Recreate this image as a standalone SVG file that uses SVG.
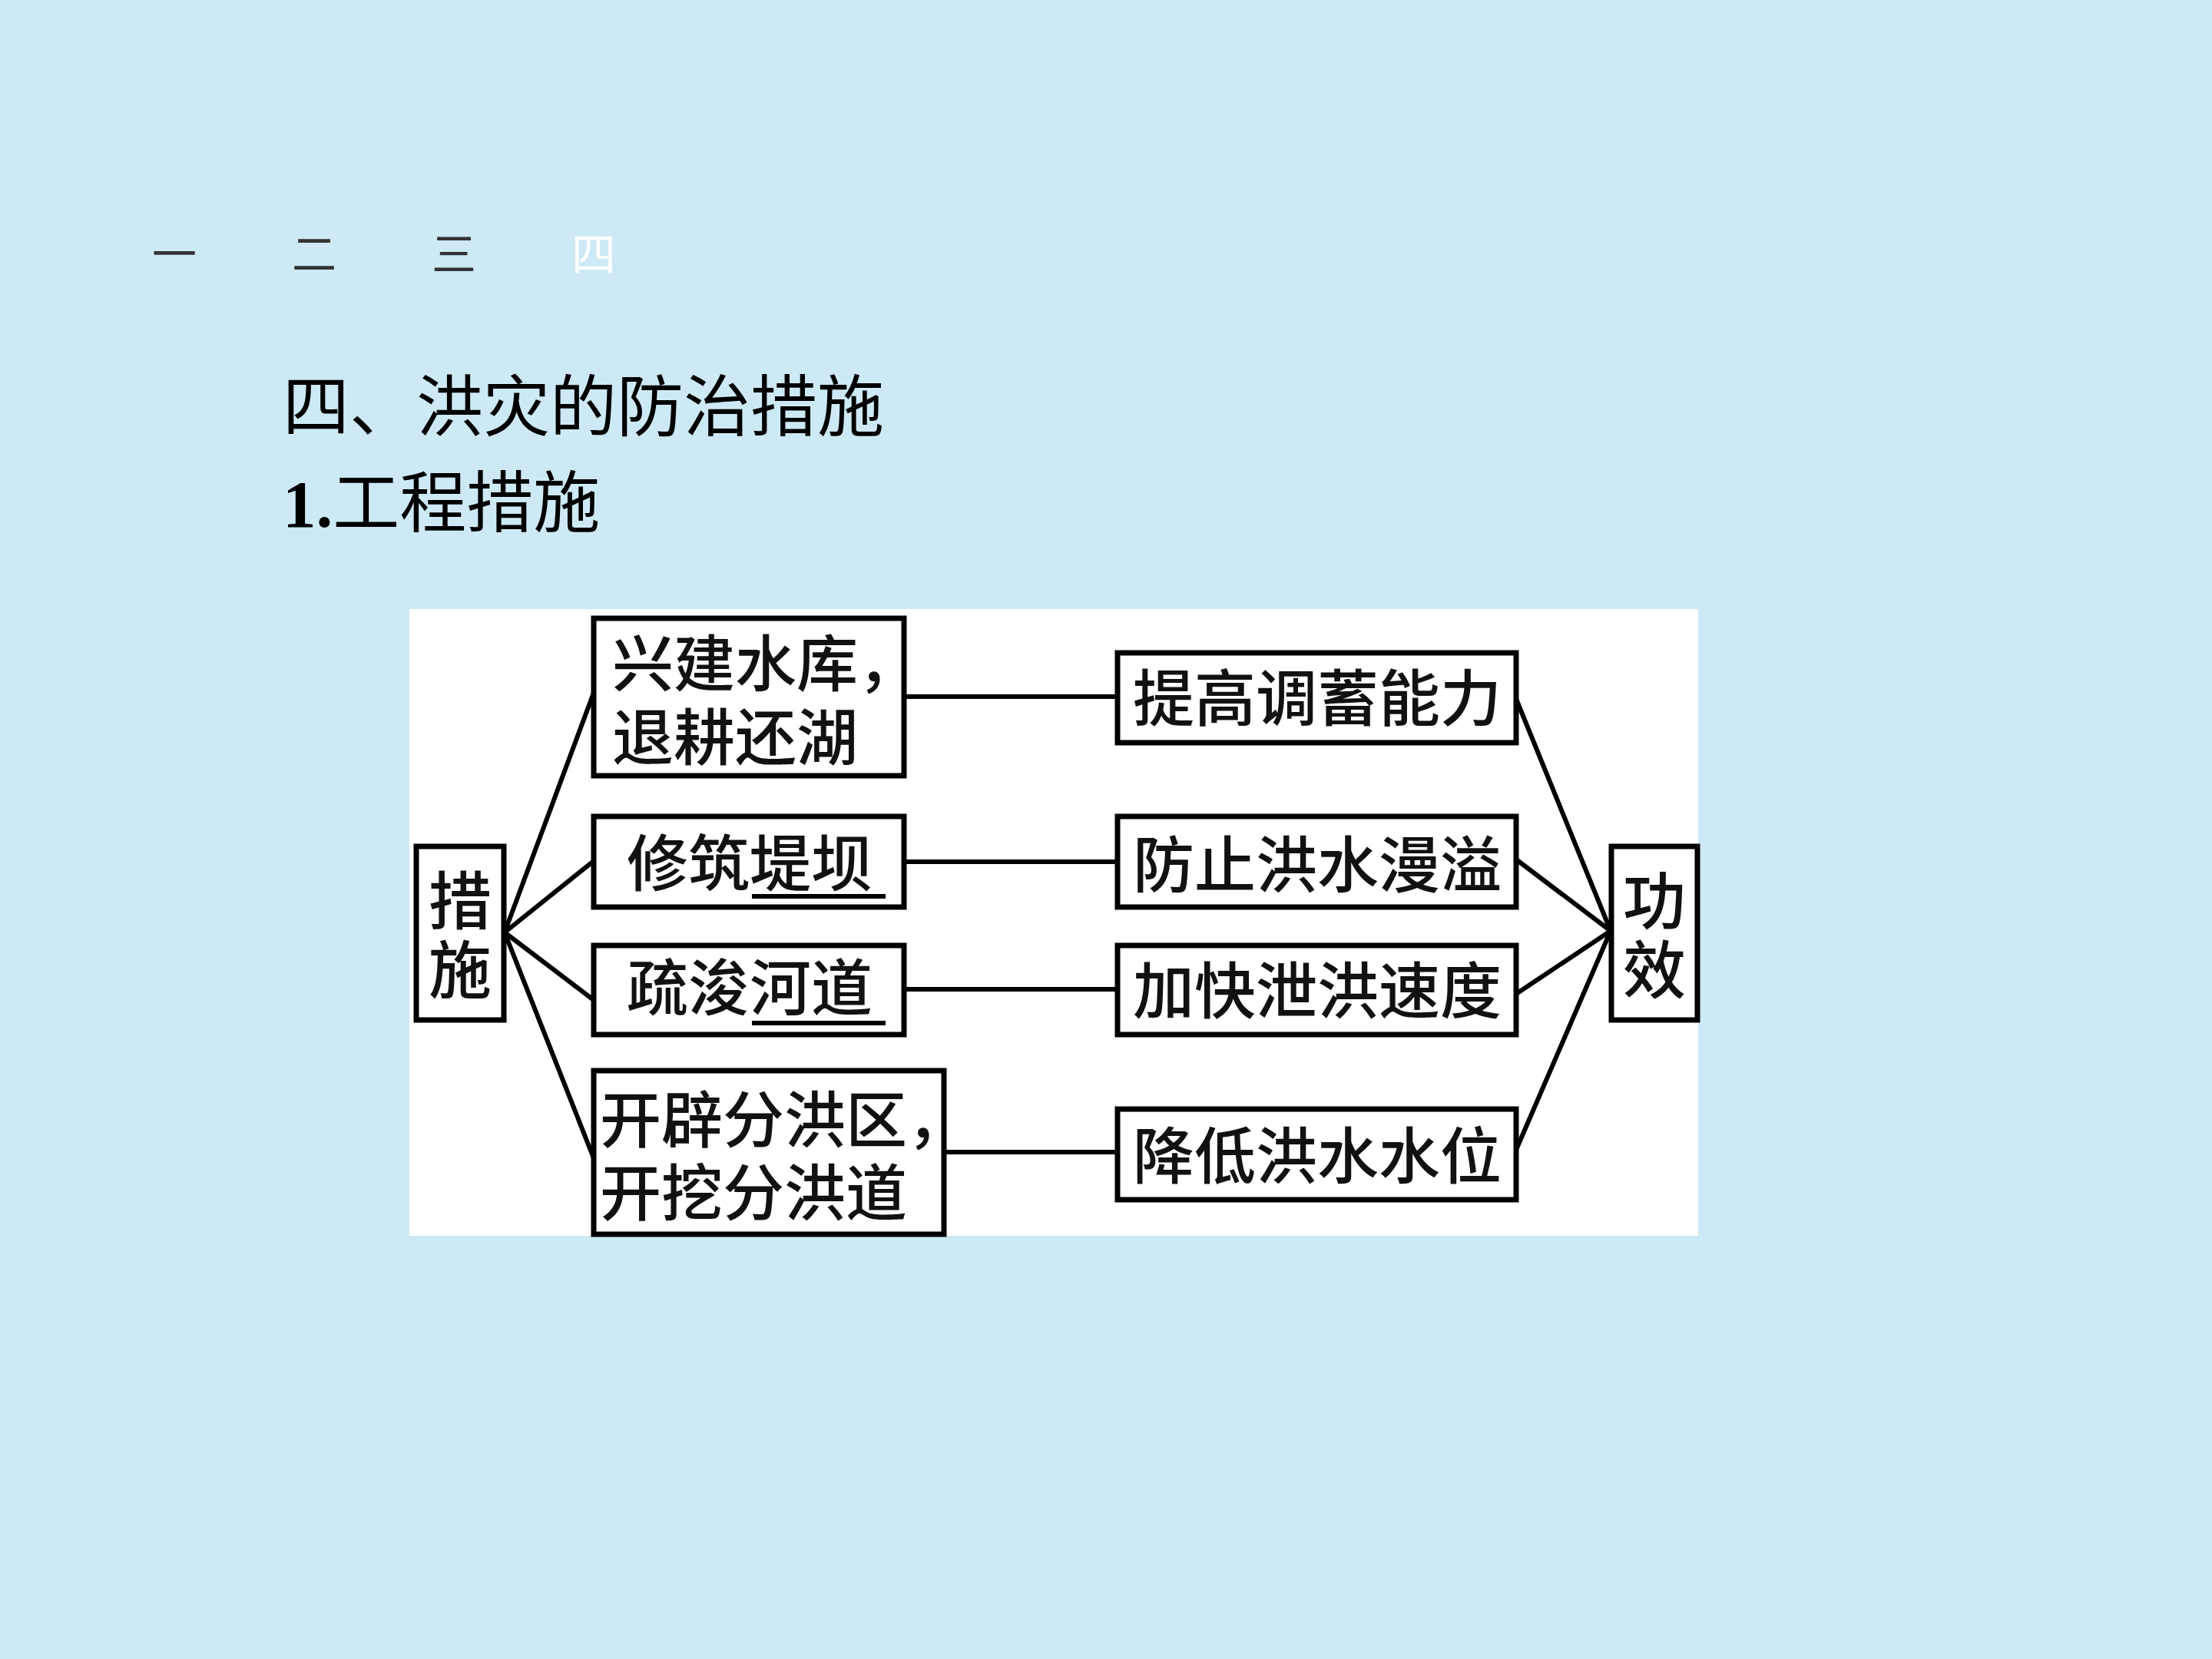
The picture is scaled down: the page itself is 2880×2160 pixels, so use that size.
<svg xmlns="http://www.w3.org/2000/svg" width="2880" height="2160" viewBox="0 0 2880 2160">
<style>
.box{fill:#fff;stroke:#000;stroke-width:7}
.t{font-family:"Noto Sans CJK SC","Noto Sans",sans-serif;font-weight:500;font-size:80px;fill:#111}
.tv{font-family:"Noto Sans CJK SC","Noto Sans",sans-serif;font-weight:500;font-size:82px;fill:#111}
.ln{stroke:#000;stroke-width:6;fill:none}
.ul{stroke:#000;stroke-width:6}
.nav{font-family:"Noto Sans CJK SC",sans-serif;font-size:58px;fill:#333}
.h{font-family:"Noto Sans CJK SC",sans-serif;font-size:87px;fill:#000}
</style>
<rect x="0" y="0" width="2880" height="2160" fill="#cde9f5"/>
<g id="nav">
<text class="nav" x="198" y="352">一</text>
<text class="nav" x="380" y="352">二</text>
<text class="nav" x="562" y="352">三</text>
<text class="nav" x="744" y="352" style="fill:#fff">四</text>
</g>
<g id="title">
<text class="h" x="368" y="561">四、洪灾的防治措施</text>
<text class="h" x="368" y="686"><tspan font-family="Liberation Serif,serif" font-weight="700">1.</tspan>工程措施</text>
</g>
<rect x="533" y="793" width="1678" height="816" fill="#fff"/>
<g id="connectors">
<line class="ln" x1="1177" y1="907" x2="1455" y2="907"/>
<line class="ln" x1="1177" y1="1122" x2="1455" y2="1122"/>
<line class="ln" x1="1177" y1="1288" x2="1455" y2="1288"/>
<line class="ln" x1="1229" y1="1500" x2="1455" y2="1500"/>
<line class="ln" x1="657" y1="1214" x2="773" y2="902"/>
<line class="ln" x1="657" y1="1214" x2="773" y2="1121"/>
<line class="ln" x1="657" y1="1214" x2="773" y2="1302"/>
<line class="ln" x1="657" y1="1214" x2="773" y2="1508"/>
<line class="ln" x1="1974" y1="910" x2="2097" y2="1212"/>
<line class="ln" x1="1974" y1="1119" x2="2097" y2="1212"/>
<line class="ln" x1="1974" y1="1294" x2="2097" y2="1212"/>
<line class="ln" x1="1974" y1="1497" x2="2097" y2="1212"/>
</g>
<g id="n-cuoshi">
<rect class="box" x="542" y="1102" width="114" height="226"/>
<text class="tv" x="599" y="1203" text-anchor="middle">措</text>
<text class="tv" x="599" y="1293" text-anchor="middle">施</text>
</g>
<g id="n-gongxiao">
<rect class="box" x="2098" y="1102" width="112" height="226"/>
<text class="tv" x="2154" y="1203" text-anchor="middle">功</text>
<text class="tv" x="2154" y="1293" text-anchor="middle">效</text>
</g>
<g id="n-m1">
<rect class="box" x="773" y="805" width="404" height="205"/>
<text class="t" x="797" y="893">兴建水库，</text>
<text class="t" x="797" y="989">退耕还湖</text>
</g>
<g id="n-m2">
<rect class="box" x="773" y="1063" width="404" height="118"/>
<text class="t" x="976" y="1153" text-anchor="middle">修筑堤坝</text>
<line class="ul" x1="979" y1="1167" x2="1153" y2="1167"/>
</g>
<g id="n-m3">
<rect class="box" x="773" y="1231" width="404" height="116"/>
<text class="t" x="976" y="1315" text-anchor="middle">疏浚河道</text>
<line class="ul" x1="979" y1="1332" x2="1153" y2="1332"/>
</g>
<g id="n-m4">
<rect class="box" x="773" y="1394" width="456" height="213"/>
<text class="t" x="781" y="1487">开辟分洪区，</text>
<text class="t" x="781" y="1582">开挖分洪道</text>
</g>
<g id="n-e1">
<rect class="box" x="1455" y="850" width="519" height="117"/>
<text class="t" x="1715" y="938" text-anchor="middle">提高调蓄能力</text>
</g>
<g id="n-e2">
<rect class="box" x="1455" y="1063" width="519" height="118"/>
<text class="t" x="1715" y="1155" text-anchor="middle">防止洪水漫溢</text>
</g>
<g id="n-e3">
<rect class="box" x="1455" y="1231" width="519" height="116"/>
<text class="t" x="1715" y="1319" text-anchor="middle">加快泄洪速度</text>
</g>
<g id="n-e4">
<rect class="box" x="1455" y="1444" width="519" height="118"/>
<text class="t" x="1715" y="1534" text-anchor="middle">降低洪水水位</text>
</g>
</svg>
